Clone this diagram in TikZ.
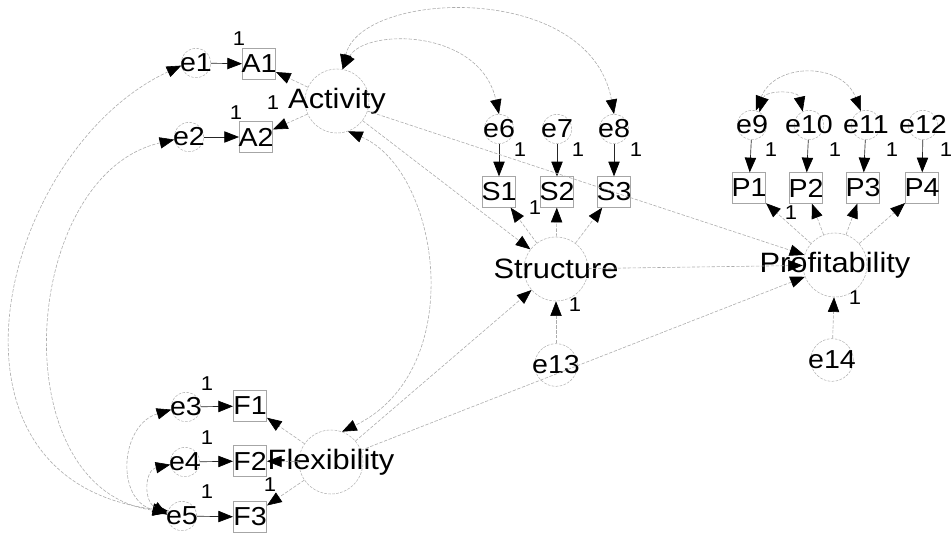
\documentclass[tikz,border=0pt]{standalone}
\usepackage{fontspec}
\newfontfamily\semfont[FakeStretch=1.1]{Liberation Sans}
\usetikzlibrary{arrows.meta}
\newcommand{\zw}[1]{\makebox[0pt]{#1}}
\begin{document}
\begin{tikzpicture}[x=0.75pt,y=-0.75pt,
  >={Triangle[length=11pt,width=8.5pt,color=black]},
  txt/.style={font=\semfont\fontsize{21}{21}\selectfont},
  etxt/.style={font=\semfont\fontsize{19.5}{19.5}\selectfont},
  errnode/.style={etxt,circle,draw=gray!60,dash pattern=on 2pt off 1pt,line width=0.4pt,minimum size=22pt,inner sep=0pt},
  bigerr/.style={errnode,minimum size=32pt},
  latnode/.style={txt,circle,draw=gray!60,dash pattern=on 2pt off 1pt,line width=0.4pt,minimum size=48pt,inner sep=0pt},
  obsnode/.style={etxt,rectangle,draw=gray!70,line width=0.5pt,minimum width=25pt,minimum height=23pt,inner sep=0pt},
  solidarr/.style={->,draw=black!85,line width=0.5pt},
  pathline/.style={->,draw=gray!65,dash pattern=on 2.5pt off 1.2pt,line width=0.45pt},
  covline/.style={<->,draw=gray!65,dash pattern=on 2.5pt off 1.2pt,line width=0.45pt},
  onelab/.style={font=\semfont\fontsize{15}{15}\selectfont,inner sep=0pt}]
\useasboundingbox (0,0) rectangle (952,535);
% error terms and indicators
\node[errnode] (e1) at (196,63) {\zw{e1}};
\node[obsnode] (A1) at (259,64) {\zw{A1}};
\node[errnode] (e2) at (189,137) {\zw{e2}};
\node[obsnode] (A2) at (256,137) {\zw{A2}};
\node[errnode] (e3) at (186,407) {\zw{e3}};
\node[obsnode] (F1) at (250,406) {\zw{F1}};
\node[errnode] (e4) at (185,462) {\zw{e4}};
\node[obsnode] (F2) at (250,461) {\zw{F2}};
\node[errnode] (e5) at (182,516) {\zw{e5}};
\node[obsnode] (F3) at (250,517) {\zw{F3}};
\node[errnode] (e6) at (499,129) {\zw{e6}};
\node[errnode] (e7) at (557,129) {\zw{e7}};
\node[errnode] (e8) at (614,129) {\zw{e8}};
\node[obsnode] (S1) at (499,192) {\zw{S1}};
\node[obsnode] (S2) at (557,192) {\zw{S2}};
\node[obsnode] (S3) at (614,192) {\zw{S3}};
\node[errnode] (e9) at (752,125) {\zw{e9}};
\node[errnode] (e10) at (809,125) {\zw{e10}};
\node[errnode] (e11) at (866,125) {\zw{e11}};
\node[errnode] (e12) at (923,125) {\zw{e12}};
\node[obsnode] (P1) at (749,188) {\zw{P1}};
\node[obsnode] (P2) at (806,188) {\zw{P2}};
\node[obsnode] (P3) at (863,188) {\zw{P3}};
\node[obsnode] (P4) at (922,188) {\zw{P4}};
\node[bigerr] (e13) at (556,365) {\zw{e13}};
\node[bigerr] (e14) at (832,360) {\zw{e14}};
% latent variables
\node[latnode] (Act) at (337,101) {\zw{Activity}};
\node[latnode] (Flex) at (331,462) {\zw{Flexibility}};
\node[latnode] (Str) at (556,269) {\zw{Structure}};
\node[latnode] (Prof) at (835,265) {\zw{Profitability}};
% measurement error paths
\draw[solidarr] (e1) -- (A1);
\draw[solidarr] (e2) -- (A2);
\draw[solidarr] (e3) -- (F1);
\draw[solidarr] (e4) -- (F2);
\draw[solidarr] (e5) -- (F3);
\draw[solidarr] (e6) -- (S1);
\draw[solidarr] (e7) -- (S2);
\draw[solidarr] (e8) -- (S3);
\draw[solidarr] (e9) -- (P1);
\draw[solidarr] (e10) -- (P2);
\draw[solidarr] (e11) -- (P3);
\draw[solidarr] (e12) -- (P4);
\draw[pathline] (e13) -- (Str);
\draw[pathline] (e14) -- (Prof);
% loadings
\draw[pathline] (Act) -- (A1);
\draw[pathline] (Act) -- (A2);
\draw[pathline] (Flex) -- (F1);
\draw[pathline] (Flex) -- (F2);
\draw[pathline] (Flex) -- (F3);
\draw[pathline] (Str) -- (S1);
\draw[pathline] (Str) -- (S2);
\draw[pathline] (Str) -- (S3);
\draw[pathline] (Prof) -- (P1);
\draw[pathline] (Prof) -- (P2);
\draw[pathline] (Prof) -- (P3);
\draw[pathline] (Prof) -- (P4);
% structural paths
\draw[pathline] (Act) -- (Str);
\draw[pathline] (Flex) -- (Str);
\draw[pathline] (Act) -- (Prof);
\draw[pathline] (Str) -- (Prof);
\draw[pathline] (Flex) -- (Prof);
% covariances
\draw[covline] (Act.80) .. controls (365,28) and (480,28) .. (e6.north);
\draw[covline] (Act.80) .. controls (360,-10) and (590,-20) .. (e8.north);
\draw[covline] (e9.60) .. controls (765,90) and (798,90) .. (e10.115);
\draw[covline] (e9.75) .. controls (775,62) and (842,62) .. (e11.110);
\draw[covline] (Act.290) .. controls (440,170) and (470,370) .. (Flex.70);
\draw[covline] (e1.190) .. controls (0,150) and (-80,480) .. (e5.160);
\draw[covline] (e2.190) .. controls (20,175) and (0,490) .. (e5.165);
\draw[covline] (e3.190) .. controls (120,425) and (115,500) .. (e5.170);
\draw[covline] (e4.190) .. controls (145,470) and (143,500) .. (e5.175);
% fixed parameters
\node[onelab] (l1) at (239,39) {1};
\node[onelab] (l2) at (236,113) {1};
\node[onelab] (l3) at (273,103) {1};
\node[onelab] (l4) at (207,384) {1};
\node[onelab] (l5) at (207,438) {1};
\node[onelab] (l6) at (207,492) {1};
\node[onelab] (l7) at (270,485) {1};
\node[onelab] (l8) at (520,150) {1};
\node[onelab] (l9) at (578,150) {1};
\node[onelab] (l10) at (636,150) {1};
\node[onelab] (l11) at (535,208) {1};
\node[onelab] (l12) at (771,150) {1};
\node[onelab] (l13) at (835,150) {1};
\node[onelab] (l14) at (892,150) {1};
\node[onelab] (l15) at (946,150) {1};
\node[onelab] (l16) at (791,213) {1};
\node[onelab] (l17) at (575,305) {1};
\node[onelab] (l18) at (855,298) {1};
\end{tikzpicture}
\end{document}
